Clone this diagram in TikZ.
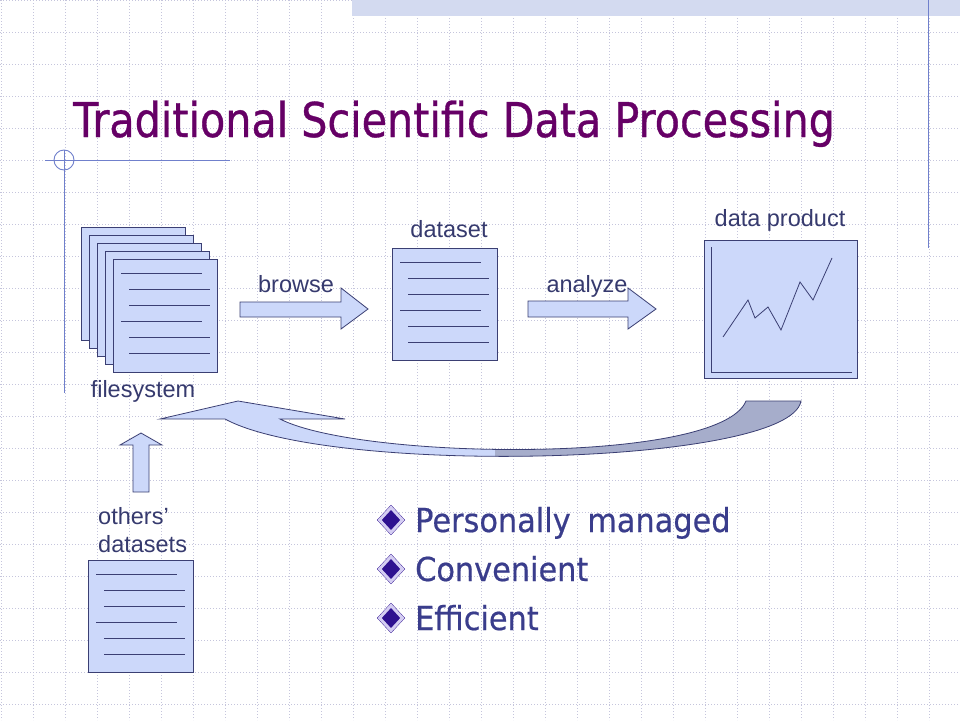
\documentclass[tikz,border=0pt]{standalone}
\usepackage{fontspec}
\usepackage{tikz}
\usepackage{xcolor}
\usetikzlibrary{shapes.geometric}
\setmainfont{Liberation Sans}
\newfontfamily\titlefont[FakeStretch=0.86, FakeBold=0.7]{DejaVu Sans}
\newfontfamily\bulletfont[FakeStretch=0.92, FakeBold=0.5]{DejaVu Sans}
\definecolor{ink}{HTML}{3B3F73}
\definecolor{pagefill}{HTML}{CCD8FA}
\definecolor{backfill}{HTML}{A6ADCB}
\definecolor{labelcol}{HTML}{363A6E}
\definecolor{titlecol}{HTML}{660066}
\definecolor{bullettext}{HTML}{3A3D8C}
\definecolor{bulletdark}{HTML}{2E1190}
\definecolor{bulletring}{HTML}{D4CDF2}
\definecolor{decocol}{HTML}{7080CC}
\definecolor{gridcol}{HTML}{C5C5DC}
\definecolor{bandfill}{HTML}{D3DAF0}
\tikzset{
    text-page/.style = {draw=ink, fill=pagefill, line width=0.9pt, rectangle, anchor=north west, inner sep=0pt, minimum width=105pt, minimum height=112pt},
    page-line/.style = {draw=ink, line width=0.9pt},
    block-arrow/.style = {draw=ink, fill=pagefill, line width=0.8pt, line join=miter},
    slide-label/.style = {text=labelcol, font=\fontsize{23.5}{28}\selectfont, inner sep=0pt, anchor=base},
    bullet-mark/.style = {diamond, draw=bulletdark, double=bulletring, double distance=3pt, fill=bulletdark, inner sep=0pt, minimum width=23pt, minimum height=25pt},
    bullet-text/.style = {text=bullettext, font=\bulletfont\fontsize{33}{40}\selectfont, inner sep=0pt, anchor=base west},
    grid-line/.style = {draw=gridcol, line width=0.7pt, dash pattern=on 1pt off 2pt},
    deco-line/.style = {draw=decocol, line width=0.9pt},
}
% six ruled lines on a page
\newcommand{\pagelines}[1]{%
    \foreach \dx/\dy in {8/14,16/30,16/46,8/62,16/78,16/94}
        \draw[page-line] ([shift={(\dx,\dy)}]#1.north west) -- ++(81,0);}
\newcommand{\returnpath}{(160,419) -- (238,401) -- (345,419) -- (280,419) .. controls (360,460) and (720,465) .. (746,401) -- (801,401) .. controls (790,466) and (330,476) .. (225,419) -- cycle}

\begin{document}
\begin{tikzpicture}[x=1pt, y=-1pt]
\useasboundingbox (0,0) rectangle (960,720);
\fill[white] (0,0) rectangle (960,720);
% background grid and slide decoration
\foreach \gx in {1,33,...,961}
    \draw[grid-line] (\gx,0) -- (\gx,720);
\foreach \gy in {0,32,...,720}
    \draw[grid-line] (0,\gy) -- (960,\gy);
\fill[bandfill] (352,0) rectangle (960,16);
\draw[deco-line] (928,0) -- (928,248);
\draw[deco-line] (45,160) -- (230,160);
\draw[deco-line] (64,150) -- (64,393);
\draw[deco-line] (64,160) circle[radius=10];

\node[anchor=base west, inner sep=0pt, text=titlecol, font=\titlefont\fontsize{48}{56}\selectfont] (title) at (73,137) {Traditional Scientific Data Processing};

% filesystem stack
\foreach \k in {1,...,5}
    \node[text-page, minimum width=104pt, minimum height=113pt] (fs\k) at ({73+8*\k},{219+8*\k}) {};
\pagelines{fs5}
\node[slide-label] (fs-label) at (143,397) {filesystem};

% dataset
\node[text-page] (ds) at (392,248) {};
\pagelines{ds}
\node[slide-label] (ds-label) at (449,237) {dataset};

% data product
\node[text-page, minimum width=153pt, minimum height=138pt] (prod) at (704,240) {};
\draw[page-line] ([shift={(7,7)}]prod.north west) |- ([shift={(-6,-6)}]prod.south east);
\draw[page-line, line width=0.8pt] (723,337) -- (748,300) -- (755,318) -- (768,307) -- (781,330) -- (800,282) -- (813,300) -- (832,258);
\node[slide-label] (prod-label) at (780,226) {data product};

% others' datasets
\node[text-page] (od) at (88,560) {};
\pagelines{od}
\node[slide-label, anchor=north west, align=left] (od-label) at (98,507) {others’\\datasets};

% block arrows
\draw[block-arrow] (240,302) -- (341,302) -- (341,288) -- (368,309) -- (341,329) -- (341,317) -- (240,317) -- cycle;
\node[slide-label] (browse-label) at (296,292) {browse};
\draw[block-arrow] (528,301) -- (628,301) -- (628,288) -- (656,309) -- (628,329) -- (628,317) -- (528,317) -- cycle;
\node[slide-label] (analyze-label) at (587,292) {analyze};
\draw[block-arrow] (133,492) -- (133,445) -- (120,445) -- (141,433) -- (162,445) -- (149,445) -- (149,492) -- cycle;

% curved return arrow
\fill[pagefill] \returnpath;
\begin{scope}
    \clip (495,380) rectangle (830,480);
    \fill[backfill] \returnpath;
\end{scope}
\draw[ink, line width=0.8pt, line join=miter] \returnpath;

% bullet points
\foreach \y/\txt [count=\i] in {532/Personally\hspace{7pt} managed, 581/Convenient, 630/Efficient} {
    \node[bullet-mark] (mark\i) at ({391},{\y-12}) {};
    \node[bullet-text] (point\i) at (415,\y) {\txt};
}
\end{tikzpicture}
\end{document}
